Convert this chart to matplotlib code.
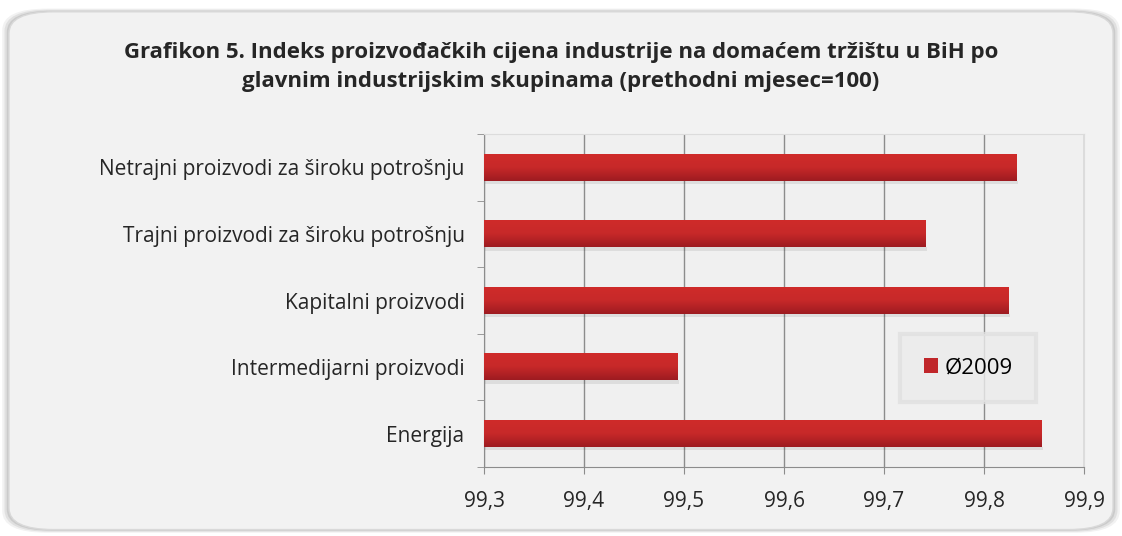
import matplotlib

matplotlib.use("Agg")

import matplotlib.pyplot as plt
import numpy as np
from matplotlib.patches import FancyBboxPatch

categories = [
    "Energija",
    "Intermedijarni proizvodi",
    "Kapitalni proizvodi",
    "Trajni proizvodi za široku potrošnju",
    "Netrajni proizvodi za široku potrošnju",
]
values_2009 = [99.857, 99.493, 99.824, 99.741, 99.832]
x_ticks = [99.3, 99.4, 99.5, 99.6, 99.7, 99.8, 99.9]
x_tick_labels = ["99,3", "99,4", "99,5", "99,6", "99,7", "99,8", "99,9"]
series_name = "Ø2009"
title = ("Grafikon 5. Indeks proizvođačkih cijena industrije na domaćem tržištu u BiH po\n"
         "glavnim industrijskim skupinama (prethodni mjesec=100)")

plt.rcParams["font.family"] = ["Open Sans", "DejaVu Sans"]

fig = plt.figure(figsize=(11.22, 5.36), dpi=100)
fig.patch.set_facecolor("white")

# okvir oko grafikona (zaobljen, sa sjenom)
for i, alpha in enumerate([0.05, 0.07, 0.09]):
    pad = 0.006 - i * 0.002
    shadow = FancyBboxPatch((0.008 - pad, 0.012 - pad), 0.984 + 2 * pad, 0.966 + 2 * pad,
                            boxstyle="round,pad=0,rounding_size=0.04",
                            transform=fig.transFigure, facecolor="black",
                            edgecolor="none", alpha=alpha, zorder=0)
    fig.patches.append(shadow)
frame = FancyBboxPatch((0.008, 0.012), 0.984, 0.966,
                       boxstyle="round,pad=0,rounding_size=0.04",
                       transform=fig.transFigure, facecolor="#f2f2f2",
                       edgecolor="#d9d9d9", linewidth=1.0, zorder=1)
fig.patches.append(frame)

ax = fig.add_axes([0.4314, 0.1287, 0.5348, 0.6213])
ax.set_facecolor("#f0f0f0")
ax.set_zorder(2)

y_pos = np.arange(len(categories))
bar_height = 0.4
bars = ax.barh(y_pos, np.array(values_2009) - 99.3, left=99.3, height=bar_height,
               color="#c0262a", label=series_name, zorder=3)

# gradijent na trakama
gradient = np.linspace(0, 1, 64).reshape(-1, 1)
cmap = matplotlib.colors.LinearSegmentedColormap.from_list(
    "bar", ["#cf2b2a", "#c72929", "#9e1b21"])
for y, v in zip(y_pos, values_2009):
    ax.imshow(gradient, extent=(99.3, v, y - bar_height / 2, y + bar_height / 2),
              origin="upper", aspect="auto", cmap=cmap, zorder=4,
              interpolation="bilinear")
    # blaga sjena ispod trake
    ax.fill_between([99.3, v + 0.002], y - bar_height / 2 - 0.05, y - bar_height / 2,
                    color="black", alpha=0.08, linewidth=0, zorder=2.5)

ax.set_xlim(99.3, 99.9)
ax.set_ylim(-0.5, 4.5)
ax.set_xticks(x_ticks)
ax.set_xticklabels(x_tick_labels, fontsize=15, color="#262626")
ax.set_yticks(y_pos)
ax.set_yticklabels(categories, fontsize=15, color="#262626")
ax.set_yticks(np.arange(-0.5, len(categories), 1.0), minor=True)
ax.tick_params(axis="y", which="major", length=0, pad=14)
ax.tick_params(axis="y", which="minor", length=5, color="#8c8c8c", direction="out")
ax.tick_params(axis="x", length=5, color="#8c8c8c", direction="out", pad=12)

ax.grid(axis="x", color="#8c8c8c", linewidth=1.0, zorder=1)
ax.set_axisbelow(True)
for side in ["top", "right"]:
    ax.spines[side].set_color("#dcdcdc")
for side in ["left", "bottom"]:
    ax.spines[side].set_color("#8c8c8c")

leg = ax.legend(handles=[bars], labels=[series_name], loc="center",
                bbox_to_anchor=(0.692, 0.192, 0.2305, 0.21),
                fontsize=16, frameon=True, fancybox=False,
                handlelength=0.65, handleheight=0.65, handletextpad=0.3,
                borderpad=1.05, borderaxespad=0,
                facecolor="#ececec", edgecolor="#e0e0e0")
leg.get_frame().set_linewidth(3)
leg.set_zorder(5)

fig.text(0.5, 0.875, title, ha="center", va="center", fontsize=16,
         fontweight="bold", color="#262626", linespacing=1.55)

fig.savefig("out.png", dpi=100)
